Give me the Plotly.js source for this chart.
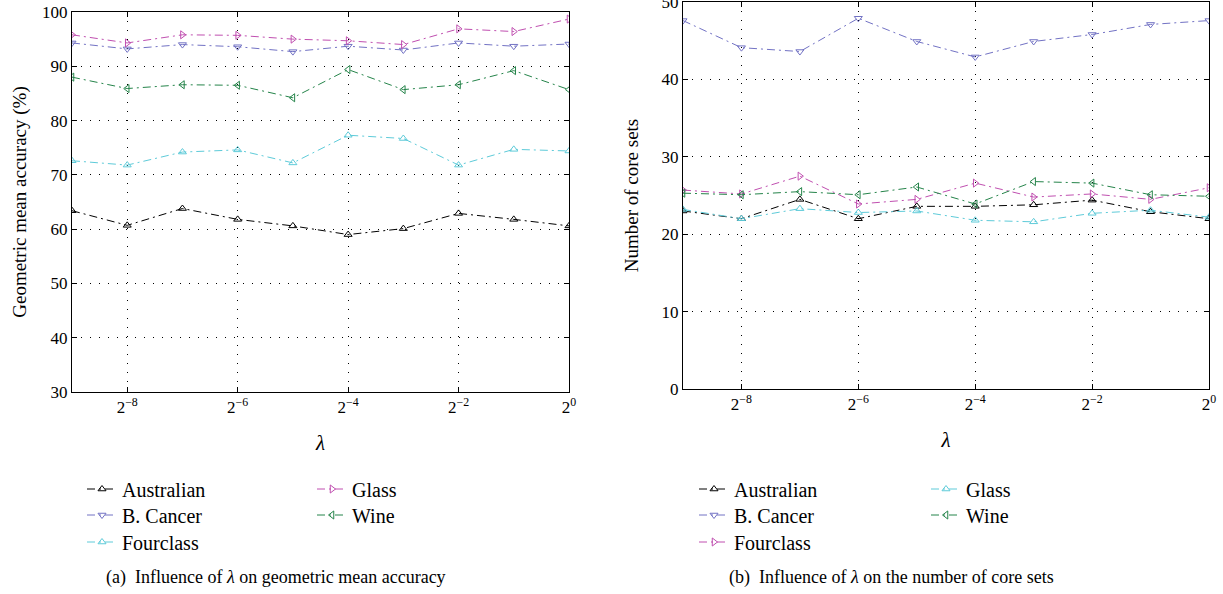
<!DOCTYPE html>
<html>
<head>
<meta charset="utf-8">
<script src="https://cdn.plot.ly/plotly-3.0.1.min.js"></script>
<style>html,body{margin:0;padding:0;background:#fff;}#chart{width:1223px;height:594px;}</style>
</head>
<body>
<div id="chart"></div>
<script>
// lambda = 2^exp
const lambdaExp = [-9, -8, -7, -6, -5, -4, -3, -2, -1, 0];
const tickExp = [-8, -6, -4, -2, 0];
const tickLabels = ['2<sup>−8</sup>', '2<sup>−6</sup>', '2<sup>−4</sup>', '2<sup>−2</sup>', '2<sup>0</sup>'];

// (a) geometric mean accuracy (%)
const accAustralian = [63.4, 60.7, 63.8, 61.8, 60.6, 59.0, 60.1, 62.9, 61.8, 60.6];
const accBCancer    = [94.3, 93.2, 94.0, 93.6, 92.7, 93.7, 93.0, 94.3, 93.7, 94.1];
const accFourclass  = [72.6, 71.8, 74.2, 74.6, 72.2, 77.3, 76.7, 71.8, 74.7, 74.4];
const accGlass      = [95.8, 94.3, 95.8, 95.7, 95.0, 94.7, 94.0, 96.9, 96.4, 98.7];
const accWine       = [88.0, 85.9, 86.6, 86.5, 84.2, 89.4, 85.7, 86.6, 89.2, 85.7];

// (b) number of core sets
const coreAustralian = [23.0, 22.0, 24.5, 22.0, 23.6, 23.6, 23.8, 24.4, 22.9, 22.0];
const coreBCancer    = [47.6, 44.1, 43.6, 47.9, 44.9, 42.9, 44.9, 45.8, 47.1, 47.6];
const coreFourclass  = [25.7, 25.2, 27.5, 23.9, 24.5, 26.6, 24.8, 25.2, 24.5, 26.0];
const coreGlass      = [23.2, 22.0, 23.3, 22.8, 23.0, 21.8, 21.6, 22.7, 23.1, 22.2];
const coreWine       = [25.3, 25.1, 25.5, 25.1, 26.1, 23.9, 26.8, 26.6, 25.1, 24.9];

const C = {black:'#000000', blue:'#7272c4', cyan:'#5ecbd9', magenta:'#c04fb0', green:'#25844a'};
const FONT = "'Liberation Serif', 'Times New Roman', serif";
const DASH = '8px,4px,2px,4px';

function tr(name, y, color, symbol, xa, ya, legend) {
  return {
    x: lambdaExp, y: y, name: name, type: 'scatter', mode: 'lines+markers',
    xaxis: xa, yaxis: ya, legend: legend,
    line: {color: color, width: 1, dash: DASH},
    marker: {symbol: symbol, size: 7, color: color, line: {color: color, width: 1}}
  };
}

const data = [
  tr('Australian', accAustralian, C.black, 'triangle-up-open', 'x', 'y', 'legend'),
  tr('B. Cancer', accBCancer, C.blue, 'triangle-down-open', 'x', 'y', 'legend2'),
  tr('Fourclass', accFourclass, C.cyan, 'triangle-up-open', 'x', 'y', 'legend3'),
  tr('Glass', accGlass, C.magenta, 'triangle-right-open', 'x', 'y', 'legend4'),
  tr('Wine', accWine, C.green, 'triangle-left-open', 'x', 'y', 'legend5'),
  tr('Australian', coreAustralian, C.black, 'triangle-up-open', 'x2', 'y2', 'legend6'),
  tr('B. Cancer', coreBCancer, C.blue, 'triangle-down-open', 'x2', 'y2', 'legend7'),
  tr('Fourclass', coreFourclass, C.magenta, 'triangle-right-open', 'x2', 'y2', 'legend8'),
  tr('Glass', coreGlass, C.cyan, 'triangle-up-open', 'x2', 'y2', 'legend9'),
  tr('Wine', coreWine, C.green, 'triangle-left-open', 'x2', 'y2', 'legend10')
];

const W = 1223, H = 594;
function px(v) { return v / W; }
function py(v) { return 1 - v / H; }

const xaxisBase = {
  range: [-9, 0], tickvals: tickExp, ticktext: tickLabels,
  showline: true, linecolor: '#000', linewidth: 1, mirror: 'ticks',
  ticks: 'inside', ticklen: 5, tickcolor: '#000', ticklabeloverflow: 'allow',
  showgrid: true, gridcolor: '#000', gridwidth: 1, griddash: '1px,8px',
  zeroline: false, tickfont: {family: FONT, size: 17, color: '#000'},
  title: {text: '<i>λ</i>', font: {family: FONT, size: 21, color: '#000'}, standoff: 18}
};
function yaxisBase(range, title, standoff) {
  return {
    range: range, dtick: 10,
    showline: true, linecolor: '#000', linewidth: 1, mirror: 'ticks',
    ticks: 'inside', ticklen: 5, tickcolor: '#000', ticklabeloverflow: 'allow',
    showgrid: true, gridcolor: '#000', gridwidth: 1, griddash: '1px,8px',
    zeroline: false, tickfont: {family: FONT, size: 17, color: '#000'},
    title: {text: title, font: {family: FONT, size: 19, color: '#000'}, standoff: standoff}
  };
}

const legBase = {font: {family: FONT, size: 20, color: '#000'}, bgcolor: 'rgba(0,0,0,0)',
  borderwidth: 0, xanchor: 'left', yanchor: 'top', tracegroupgap: 0, itemclick: false};
function leg(xText, yRow) { return Object.assign({}, legBase, {x: px(xText - 40), y: py(yRow - 19.5)}); }

const layout = {
  width: W, height: H, paper_bgcolor: '#fff', plot_bgcolor: '#fff',
  margin: {l: 0, r: 0, t: 0, b: 0},
  font: {family: FONT, color: '#000'},
  xaxis: Object.assign({}, xaxisBase, {domain: [px(72), px(569)], anchor: 'y'}),
  yaxis: Object.assign(yaxisBase([30, 100], 'Geometric mean accuracy (%)', 10), {domain: [py(392), py(12)], anchor: 'x'}),
  xaxis2: Object.assign({}, xaxisBase, {domain: [px(683), px(1209)], anchor: 'y2'}),
  yaxis2: Object.assign(yaxisBase([0, 50], 'Number of core sets', 17), {domain: [py(389), py(2)], anchor: 'x2'}),
  showlegend: true,
  legend: leg(122, 489), legend2: leg(122, 515), legend3: leg(122, 542),
  legend4: leg(352, 489), legend5: leg(352, 515),
  legend6: leg(734, 489), legend7: leg(734, 515), legend8: leg(734, 542),
  legend9: leg(966, 489), legend10: leg(966, 515),
  annotations: [
    {text: '(a)  Influence of <i>λ</i> on geometric mean accuracy', xref: 'paper', yref: 'paper',
     x: px(104), y: py(577), xanchor: 'left', yanchor: 'middle', showarrow: false,
     font: {family: FONT, size: 18, color: '#000'}},
    {text: '(b)  Influence of <i>λ</i> on the number of core sets', xref: 'paper', yref: 'paper',
     x: px(727), y: py(577), xanchor: 'left', yanchor: 'middle', showarrow: false,
     font: {family: FONT, size: 18, color: '#000'}}
  ]
};

Plotly.newPlot('chart', data, layout, {displayModeBar: false, staticPlot: true});
</script>
</body>
</html>
